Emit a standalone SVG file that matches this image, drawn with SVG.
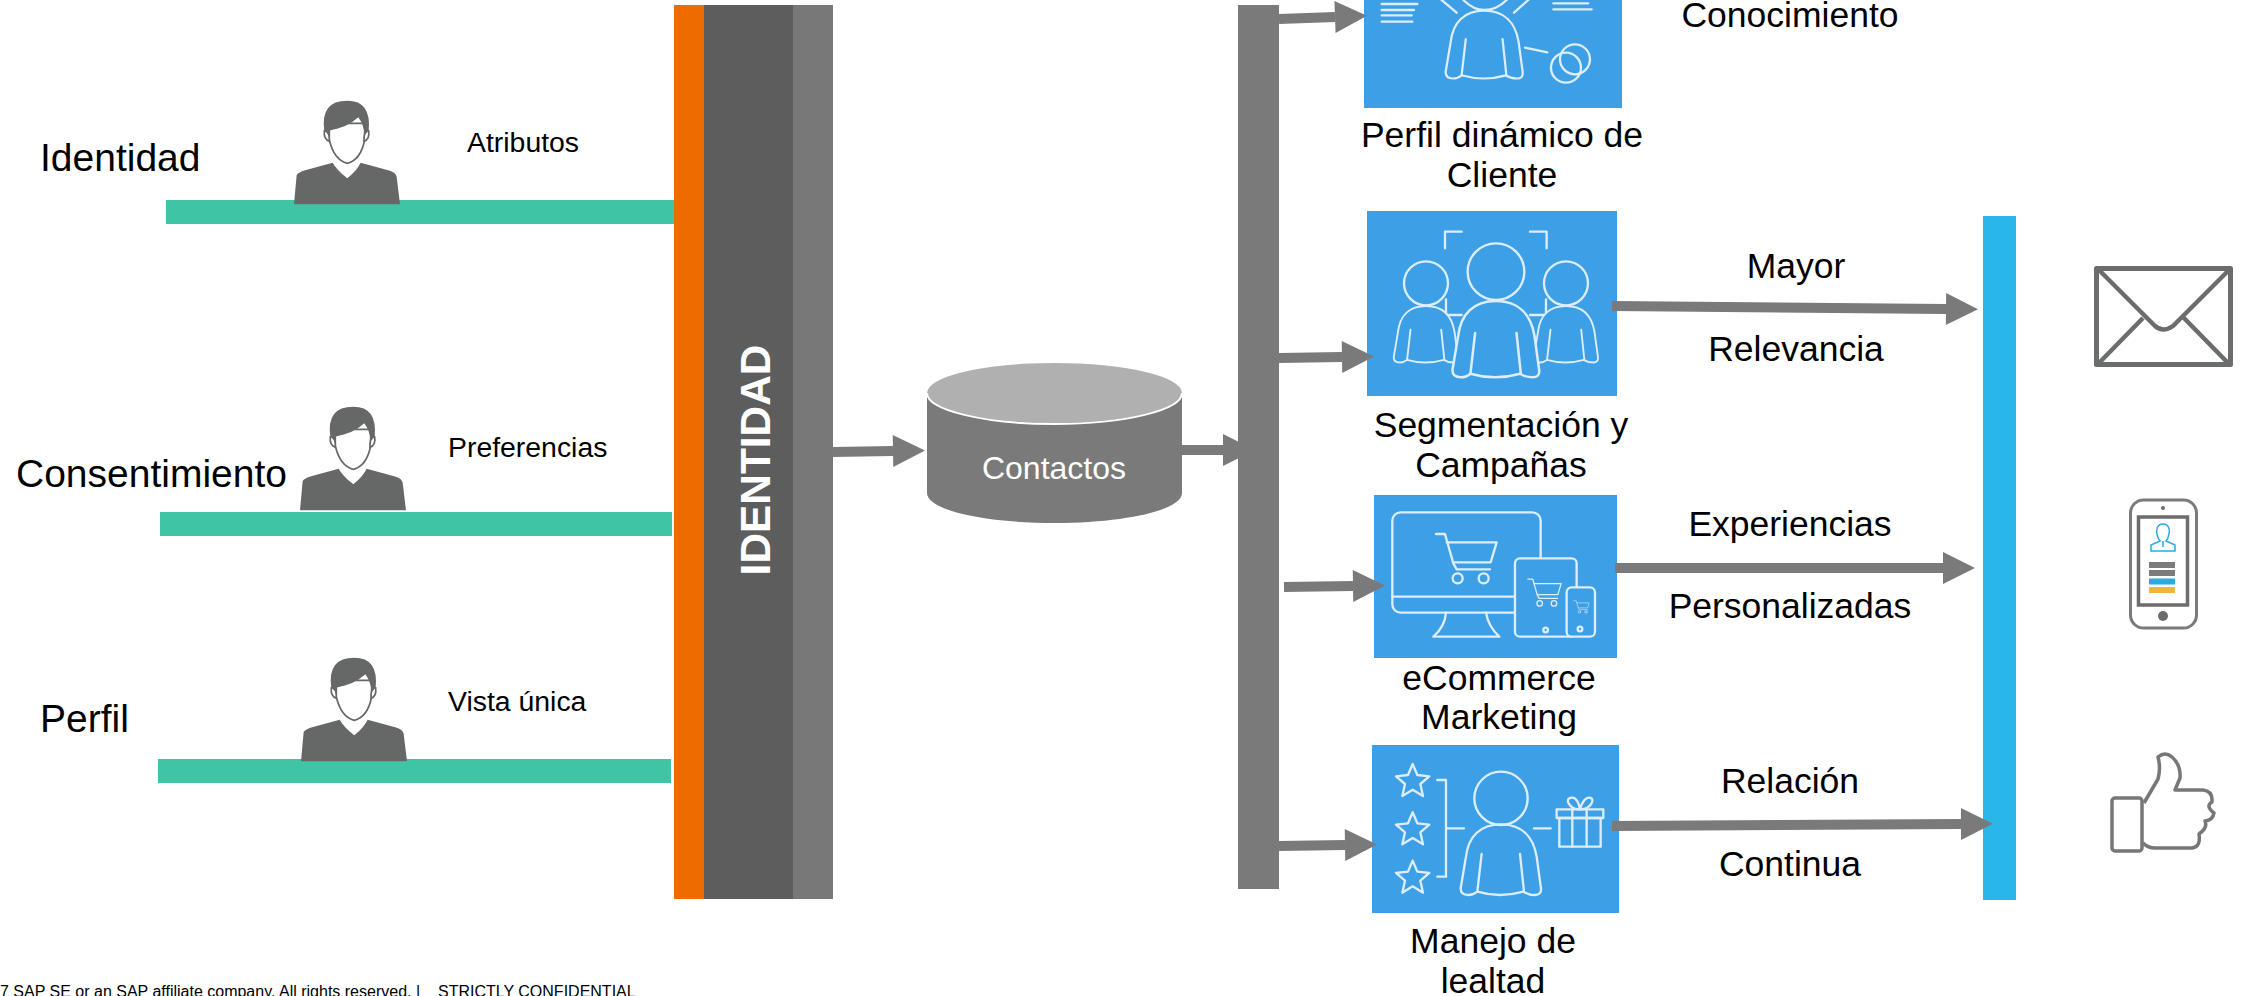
<svg xmlns="http://www.w3.org/2000/svg" xmlns:xlink="http://www.w3.org/1999/xlink" width="2247" height="996" viewBox="0 0 2247 996">
<style>
text{font-family:"Liberation Sans",Arial,sans-serif;fill:#000}
.h{font-size:39px}.a{font-size:28.4px}.c{font-size:35.5px;text-anchor:middle}
.card{fill:#3d9fe5}
.ic{fill:none;stroke:#dcedfb;stroke-width:7;stroke-linecap:round;stroke-linejoin:round}
.icf{fill:#3d9fe5;stroke:#dcedfb;stroke-width:7;stroke-linecap:round;stroke-linejoin:round}
.teal{fill:#40c4a6}
.conn{stroke:#7a7a7a;stroke-width:10;fill:none;marker-end:url(#ah)}
.gl{fill:none;stroke:#6b6d6d;stroke-linejoin:round}
</style>
<defs>
<marker id="ah" markerUnits="userSpaceOnUse" markerWidth="34" markerHeight="34" refX="0" refY="16" orient="auto" overflow="visible"><path d="M0 0L32 16L0 32Z" fill="#7a7a7a"/></marker>
<g id="body"><path d="M0 0C-63 0-98 37-105 97L-121 192Q-121 212-98 212Q-83 212-71 202Q-3 222 67 202Q82 212 102 212Q122 212 120 192L107 97C97 37 62 0 0 0Z"/><path d="M-58 89L-71 202M57 89L69 202" fill="none"/></g>
<g id="cart"><path d="M288 162H315L340 250L350 268H450M320 187H470L452 247H340"/><circle cx="353" cy="295" r="15"/><circle cx="431" cy="295" r="15"/></g>
<path id="star" d="M0-50L14-17L50-13L23 10L31 46L0 27L-31 46L-23 10L-50-13L-14-17Z"/>
<g id="person">
<path d="M72 373L80 285Q85 277 100 272L188 248Q200 270 232 295Q262 270 272 248L360 272Q378 278 380 290L390 373Z" fill="#666867"/>
<path d="M178 150L178 180Q192 240 232 250Q272 240 284 180L284 130L232 130Z" fill="#fff" stroke="#666867" stroke-width="5"/>
<path d="M163 152Q178 146 178 184Q160 178 163 152ZM296 152Q282 146 282 184Q300 178 296 152Z" fill="#fff" stroke="#666867" stroke-width="5"/>
<path d="M163 152Q150 62 232 62Q305 62 296 152L284 165Q282 135 265 112Q228 146 178 150L176 165Z" fill="#666867"/>
</g>
</defs>

<g id="bars">
<rect id="bar-orange" x="674" y="5" width="30" height="894" fill="#ee6b00"/>
<rect id="bar-dark" x="704" y="5" width="89" height="894" fill="#5d5d5d"/>
<rect id="bar-light" x="793" y="5" width="40" height="894" fill="#787878"/>
<text x="0" y="0" transform="translate(770 460) rotate(-90)" text-anchor="middle" font-size="42.4" font-weight="bold" style="fill:#fff">IDENTIDAD</text>
<rect id="bar-grey" x="1238" y="5" width="41" height="884" fill="#7a7a7a"/>
<rect id="bar-cyan" x="1983" y="216" width="33" height="684" fill="#29b6e8"/>
</g>

<g id="identidad">
<rect class="teal" x="166" y="200" width="508" height="24"/>
<use xlink:href="#person" href="#person" transform="translate(270 80) scale(.3333)"/>
<text class="h" x="40" y="171">Identidad</text>
<text class="a" x="467" y="152">Atributos</text>
</g>
<g id="consentimiento">
<rect class="teal" x="160" y="512" width="512" height="24"/>
<use xlink:href="#person" href="#person" transform="translate(276 386) scale(.3333)"/>
<text class="h" x="16" y="487">Consentimiento</text>
<text class="a" x="448" y="457">Preferencias</text>
</g>
<g id="perfil">
<rect class="teal" x="158" y="759" width="513" height="24"/>
<use xlink:href="#person" href="#person" transform="translate(277 637) scale(.3333)"/>
<text class="h" x="40" y="732">Perfil</text>
<text class="a" x="448" y="711">Vista única</text>
</g>

<g id="contactos">
<path d="M927 393V493C927 510 984 523 1054.500 523S1182 510 1182 493V393Z" fill="#7a7a7a"/>
<path d="M925 362H1184V393C1184 375 1130 362 1054.500 362S925 375 925 393Z" fill="#fff"/>
<ellipse cx="1054.500" cy="393" rx="127.500" ry="30" fill="#b0b0b0"/>
<path d="M927 393C927 410 984 424 1054.500 424S1182 410 1182 393" fill="none" stroke="#fff" stroke-width="2"/>
<text x="1054" y="479" font-size="32" text-anchor="middle" style="fill:#fff">Contactos</text>
</g>

<g id="perfil-dinamico">
<rect class="card" x="1364" y="0" width="258" height="108"/>
<g transform="translate(1340 0) scale(.3333)" class="ic">
<path d="M370 0Q400 30 433 30Q470 30 500 0M305 0L350 38M565 0L522 38M555 143L622 157"/>
<path d="M125 12H232M125 30H222M125 46H215M125 65H217M640 10H745M640 28H755"/>
<circle cx="678" cy="203" r="45"/><circle cx="705" cy="178" r="45"/>
<use xlink:href="#body" href="#body" transform="translate(433 32) scale(.96)"/>
</g>
<text class="c" x="1502" y="147">Perfil dinámico de</text>
<text class="c" x="1502" y="187">Cliente</text>
</g>

<g id="segmentacion">
<rect class="card" x="1367" y="211" width="250" height="185"/>
<g transform="translate(1340 200) scale(.3333)" class="ic">
<path d="M315 145V95H365M570 95H620V145M318 298V345H365M570 345H618V298"/>
<circle cx="258" cy="250" r="66"/><circle cx="678" cy="250" r="66"/>
<use xlink:href="#body" href="#body" class="icf" transform="translate(258 318) scale(.8)"/>
<use xlink:href="#body" href="#body" class="icf" transform="translate(678 318) scale(.8)"/>
<circle cx="468" cy="215" r="85"/>
<use xlink:href="#body" href="#body" class="icf" transform="translate(468 303) scale(1.08)"/>
</g>
<text class="c" x="1501" y="437">Segmentación y</text>
<text class="c" x="1501" y="477">Campañas</text>
</g>

<g id="ecommerce">
<rect class="card" x="1374" y="495" width="243" height="163"/>
<g transform="translate(1340 480) scale(.3333)" class="ic">
<rect x="157" y="97" width="445" height="301" rx="25"/>
<path d="M157 350H525M318 398Q315 440 280 470H478Q445 440 438 398"/>
<use xlink:href="#cart" href="#cart"/>
<rect x="525" y="235" width="185" height="235" rx="15" class="icf"/>
<rect x="680" y="322" width="85" height="148" rx="15" class="icf"/>
<use xlink:href="#cart" href="#cart" transform="translate(405 208) scale(.55)"/>
<use xlink:href="#cart" href="#cart" transform="translate(630 322) scale(.25)"/>
<circle cx="617" cy="450" r="7"/><circle cx="720" cy="447" r="7"/>
</g>
<text class="c" x="1499" y="690">eCommerce</text>
<text class="c" x="1499" y="729">Marketing</text>
</g>

<g id="lealtad">
<rect class="card" x="1372" y="745" width="247" height="168"/>
<g transform="translate(1340 730) scale(.3333)" class="ic">
<use xlink:href="#star" href="#star" transform="translate(218 152)"/>
<use xlink:href="#star" href="#star" transform="translate(218 297)"/>
<use xlink:href="#star" href="#star" transform="translate(218 442)"/>
<path d="M292 150H318V440H292M318 295H372M582 295H632"/>
<circle cx="483" cy="205" r="80"/>
<use xlink:href="#body" href="#body" transform="translate(483 283)"/>
<rect x="650" y="238" width="140" height="26"/><rect x="658" y="264" width="124" height="86"/>
<path d="M697 238V350M740 238V350M720 238C690 240 670 205 695 203C710 202 718 222 720 238C725 222 735 202 748 203C770 205 750 240 720 238"/>
</g>
<text class="c" x="1493" y="953">Manejo de</text>
<text class="c" x="1493" y="993">lealtad</text>
</g>

<g id="connectors">
<line class="conn" x1="833" y1="452" x2="893" y2="451"/>
<line class="conn" x1="1182" y1="450" x2="1223" y2="450"/>
<line class="conn" x1="1279" y1="19" x2="1335" y2="17"/>
<line class="conn" x1="1279" y1="358" x2="1342" y2="357"/>
<line class="conn" x1="1284" y1="587" x2="1353" y2="586"/>
<line class="conn" x1="1279" y1="846" x2="1345" y2="845"/>
<line class="conn" x1="1612" y1="306" x2="1946" y2="309"/>
<line class="conn" x1="1615" y1="568" x2="1943" y2="568"/>
<line class="conn" x1="1612" y1="826" x2="1961" y2="824"/>
</g>

<g id="conocimiento"><text class="c" x="1790" y="27">Conocimiento</text></g>
<g id="labels-mayor"><text class="c" x="1796" y="278">Mayor</text><text class="c" x="1796" y="361">Relevancia</text></g>
<g id="labels-experiencias"><text class="c" x="1790" y="536">Experiencias</text><text class="c" x="1790" y="618">Personalizadas</text></g>
<g id="labels-relacion"><text class="c" x="1790" y="793">Relación</text><text class="c" x="1790" y="876">Continua</text></g>

<g id="icon-mail" class="gl">
<rect x="2096.500" y="268.500" width="134" height="96" stroke-width="5"/>
<path d="M2099 270L2155 326Q2163 333 2173 326L2229 270M2099 363L2143 318M2228 363L2183 317" stroke-width="4.500"/>
</g>
<g id="icon-phone">
<rect x="2130.500" y="500" width="66" height="128" rx="13" fill="none" stroke="#7b7b7b" stroke-width="3"/>
<rect x="2138.500" y="517" width="49" height="88" fill="none" stroke="#6b6d6d" stroke-width="3.500"/>
<circle cx="2163" cy="616" r="5" fill="#6b6d6d"/><circle cx="2163" cy="508" r="2" fill="#6b6d6d"/>
<path d="M2163 524C2157 524 2156 530 2157 534Q2158 539 2160 541L2151 545V551H2175V545L2166 541Q2168 539 2169 534C2170 530 2169 524 2163 524ZM2163 541V547" fill="none" stroke="#29abe2" stroke-width="1.500"/>
<rect x="2149" y="562" width="26" height="6" fill="#7b7b7b"/><rect x="2149" y="570" width="26" height="6" fill="#7b7b7b"/>
<rect x="2149" y="578.500" width="26" height="6" fill="#29abe2"/><rect x="2149" y="587" width="26" height="6" fill="#f0b63a"/>
</g>
<g id="icon-thumb" fill="none" stroke="#777" stroke-width="3.500" stroke-linejoin="round">
<rect x="2112" y="798" width="30" height="53" rx="3"/>
<path d="M2144 803L2158 779Q2161 768 2158 757Q2165 751 2172 757Q2181 765 2180 778L2175 790H2203Q2213 791 2212 802Q2205 806 2214 813Q2213 820 2205 821Q2208 828 2199 834Q2201 847 2192 848H2155Q2148 848 2143 843"/>
</g>
<text id="footer" x="0" y="997" font-size="16">7 SAP SE or an SAP affiliate company. All rights reserved.<tspan x="416">|</tspan><tspan x="438">STRICTLY CONFIDENTIAL</tspan></text>
</svg>
